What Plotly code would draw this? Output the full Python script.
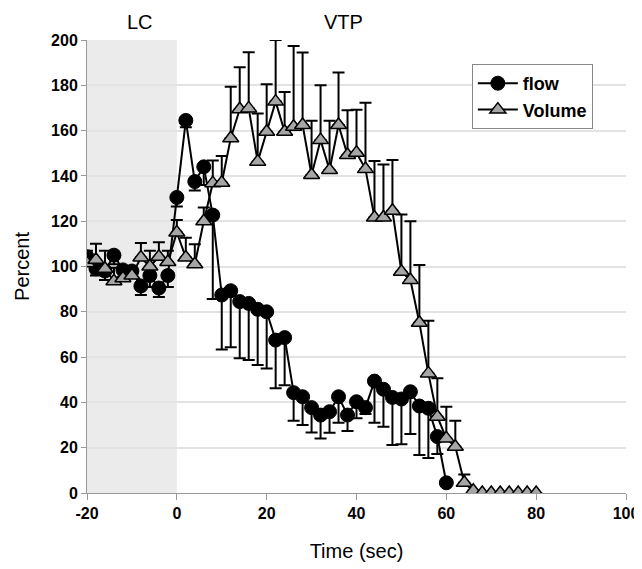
import plotly.graph_objects as go

# ---- data ----
time_flow = [-20, -18, -16, -14, -12, -10, -8, -6, -4, -2, 0, 2, 4, 6, 8, 10, 12, 14, 16, 18,
             20, 22, 24, 26, 28, 30, 32, 34, 36, 38, 40, 42, 44, 46, 48, 50, 52, 54, 56, 58, 60]
flow = [104.3, 99, 98, 105, 98.5, 98, 91.4, 96, 90.5, 96, 130.5, 164.5, 137.5, 144, 122.7,
        87.4, 89.3, 84.5, 83.7, 81.1, 80, 67.5, 68.6, 44.3, 42.5, 37.7, 34.4, 35.9, 42.5, 34.4,
        40.3, 37.7, 49.4, 45.8, 42.2, 41.5, 44.7, 38.4, 37.4, 24.9, 4.5]
flow_err = [3, 3, 4, 4, 3, 3, 4, 5, 4, 5, 4, 3, 4, 8, 37, 24, 25, 25, 25, 24.6, 25, 21.3, 21,
            12.4, 12.5, 11, 10.3, 9.3, 11.5, 7, 7.3, 2.8, 18.4, 16.5, 21, 20, 18.7, 21.6, 22, 7.7, 0]

time_vol = [-20, -18, -16, -14, -12, -10, -8, -6, -4, -2, 0, 2, 4, 6, 8, 10, 12, 14, 16, 18,
            20, 22, 24, 26, 28, 30, 32, 34, 36, 38, 40, 42, 44, 46, 48, 50, 52, 54, 56, 58,
            60, 62, 64, 66, 68, 70, 72, 74, 76, 78, 80]
volume = [101.4, 103, 99, 93.5, 94.8, 96, 104, 100, 104.3, 102, 115, 104, 101, 120, 136.8,
          137, 156.6, 169.4, 169.8, 146.3, 159.5, 172.8, 159.5, 161.7, 162.5, 140.4, 155.8,
          142.6, 162.5, 149.2, 150.2, 143, 121.6, 121.6, 124.6, 97.7, 94, 75.2, 52.8, 33.7,
          24.1, 20.4, 4.5, 1, 0, 0, 0, 0, 0, 0, 0]
volume_err = [5.6, 7, 8, 6, 3, 3, 6.4, 7, 6.4, 5, 5.5, 8.7, 8.8, 6, 10, 11.8, 22.8, 18.6, 24.8,
              21.3, 21, 27.2, 17.5, 35.6, 32, 24, 24.2, 21.8, 23.2, 19.8, 19, 29.3, 25, 23.4,
              22.4, 25.3, 26, 25.5, 23.2, 17, 14, 11.5, 3.7, 0, 0, 0, 0, 0, 0, 0, 0]

x_ticks = [-20, 0, 20, 40, 60, 80, 100]
y_ticks = [0, 20, 40, 60, 80, 100, 120, 140, 160, 180, 200]

LC_start, LC_end = -20, 0

FONT = "Liberation Sans, Arial, sans-serif"

fig = go.Figure()

fig.add_shape(type="rect", xref="x", yref="y", x0=LC_start, x1=LC_end, y0=0, y1=200,
              fillcolor="#ebebeb", line=dict(width=0), layer="below")

fig.add_trace(go.Scatter(
    x=time_flow, y=flow, name="flow", mode="lines+markers",
    line=dict(color="black", width=2),
    marker=dict(symbol="circle", size=14, color="black", line=dict(color="black", width=1)),
    error_y=dict(type="data", symmetric=False, array=[0] * len(flow_err), arrayminus=flow_err,
                 color="black", thickness=2, width=6),
))
fig.add_trace(go.Scatter(
    x=time_vol, y=volume, name="Volume", mode="lines+markers",
    line=dict(color="black", width=2),
    marker=dict(symbol="triangle-up", size=14, color="#a6a6a6", line=dict(color="black", width=1.5)),
    error_y=dict(type="data", symmetric=False, array=volume_err, arrayminus=[0] * len(volume_err),
                 color="black", thickness=2, width=6),
))

tick_font = dict(family=FONT, size=16, color="black", weight="bold")

fig.update_layout(
    width=634, height=561,
    margin=dict(l=79, r=16, t=32, b=76, autoexpand=False),
    paper_bgcolor="white", plot_bgcolor="white",
    font=dict(family=FONT, color="black"),
    showlegend=True,
    legend=dict(x=0.714, y=0.947, xanchor="left", yanchor="top",
                bgcolor="white", bordercolor="#888888", borderwidth=1,
                itemwidth=40, tracegroupgap=0,
                font=dict(family=FONT, size=18, color="black", weight="bold")),
    xaxis=dict(range=[-20, 100], tickvals=x_ticks, ticktext=[str(v) for v in x_ticks],
               showgrid=False, zeroline=False, showline=True, linecolor="#999999", linewidth=1,
               ticks="outside", ticklen=6, tickcolor="#999999", automargin=False,
               tickfont=tick_font,
               title=dict(text="Time (sec)", font=dict(family=FONT, size=20, color="black"),
                          standoff=22)),
    yaxis=dict(range=[0, 200], tickvals=y_ticks, ticktext=[str(v) for v in y_ticks],
               showgrid=True, gridcolor="#e3e3e3", gridwidth=1.5, zeroline=False,
               showline=True, linecolor="#999999", linewidth=1,
               ticks="outside", ticklen=5, tickcolor="#999999", automargin=False,
               tickfont=tick_font,
               title=dict(text="Percent", font=dict(family=FONT, size=20, color="black"),
                          standoff=16)),
    annotations=[
        dict(text="LC", x=-8.3, y=1.04, xref="x", yref="paper", showarrow=False,
             font=dict(family=FONT, size=20, color="black"),
             xanchor="center", yanchor="middle"),
        dict(text="VTP", x=37.2, y=1.04, xref="x", yref="paper", showarrow=False,
             font=dict(family=FONT, size=20, color="black"),
             xanchor="center", yanchor="middle"),
    ],
)

fig.write_html("out.html")
